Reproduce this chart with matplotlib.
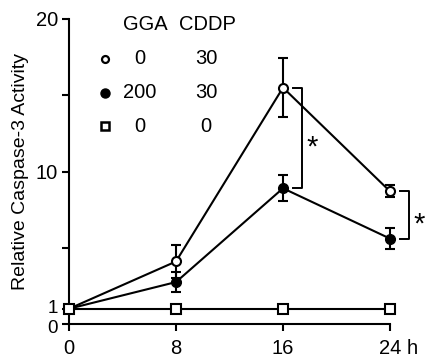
import matplotlib
matplotlib.use("Agg")
import matplotlib.pyplot as plt
from matplotlib.transforms import ScaledTranslation

plt.rcParams['font.family'] = ['Liberation Sans', 'DejaVu Sans']

hours = [0, 8, 16, 24]
open_vals = [1.0, 4.1, 15.5, 8.7]
open_err = [0.0, 1.1, 1.95, 0.4]
filled_vals = [1.0, 2.75, 8.9, 5.6]
filled_err = [0.0, 0.65, 0.85, 0.7]
square_vals = [1.0, 1.0, 1.0, 1.0]

xtick_labels = ["0", "8", "16", "24 h"]
ytick_major = [0, 1, 10, 20]
ytick_minor = [5, 15]

legend_header = ["GGA", "CDDP"]
legend_gga = ["0", "200", "0"]
legend_cddp = ["30", "30", "0"]

FS = 14.5

fig = plt.figure(figsize=(4.27, 3.58), dpi=100)
ax = fig.add_axes([69/427, 34/358, (390-69)/427, (324-19)/358])

lw = 1.5
ax.errorbar(hours, open_vals, yerr=open_err, color='black', lw=lw, marker='o',
            mfc='white', mec='black', mew=1.5, ms=6.5, capsize=3.3, capthick=1.5,
            clip_on=False, zorder=3)
ax.errorbar(hours, filled_vals, yerr=filled_err, color='black', lw=lw, marker='o',
            mfc='black', mec='black', ms=7, capsize=3.3, capthick=1.5,
            clip_on=False, zorder=4)
ax.plot(hours, square_vals, color='black', lw=lw, marker='s', mfc='white',
        mec='black', mew=1.5, ms=6.5, clip_on=False, zorder=5)

# significance brackets
def bracket(x, y1, y2):
    xb = x + 1.45
    xt = x + 0.75
    ax.plot([xt, xb, xb, xt], [y1, y1, y2, y2], color='black', lw=1.4, clip_on=False)
    ax.text(xb + 0.7, (y1 + y2) / 2 - 0.6, "*", fontsize=21, ha='center', va='center')

bracket(hours[2], open_vals[2], filled_vals[2])
bracket(hours[3], open_vals[3], filled_vals[3])

ax.set_xlim(0, 24)
ax.set_ylim(0, 20)
ax.set_xticks(hours)
ax.set_xticklabels(xtick_labels)
ax.set_yticks(ytick_major)
ax.set_yticks(ytick_minor, minor=True)
ax.tick_params(axis='both', which='both', direction='out', width=1.5, labelsize=FS)
ax.tick_params(axis='both', which='both', length=5)
ax.tick_params(axis='y', pad=3)
ax.tick_params(axis='x', pad=6)
for s in ['top', 'right']:
    ax.spines[s].set_visible(False)
for s in ['left', 'bottom']:
    ax.spines[s].set_linewidth(1.5)
ax.set_ylabel("Relative Caspase-3 Activity", fontsize=14, labelpad=5)

last = ax.get_xticklabels()[-1]
last.set_horizontalalignment('left')
shift = -1.112 * FS / 72 / 2
last.set_transform(last.get_transform() + ScaledTranslation(shift, 0, fig.dpi_scale_trans))

# nudge the crowded "0" and "1" y tick labels apart
ylabs = ax.get_yticklabels()
for lab, dy in zip(ylabs[:2], [-2.5 / 100, 2.5 / 100]):
    lab.set_transform(lab.get_transform() + ScaledTranslation(0, dy, fig.dpi_scale_trans))
    lab.set_fontsize(13.5)

# legend table
def ax_x(px):
    return (px - 69) / 321

def ax_y(py):
    return (324 - py) / 305

hx = [ax_x(145), ax_x(207)]
for t, x in zip(legend_header, hx):
    ax.text(x, ax_y(25), t, transform=ax.transAxes, fontsize=FS,
            ha='center', va='center')
row_y = [ax_y(59), ax_y(93), ax_y(126)]
mk_x = ax_x(105)
styles = [dict(marker='o', mfc='white', mec='black', mew=1.6, ms=5),
          dict(marker='o', mfc='black', mec='black', ms=6.5),
          dict(marker='s', mfc='white', mec='black', mew=1.8, ms=5.5)]
for y, st, g, c in zip(row_y, styles, legend_gga, legend_cddp):
    ax.plot([mk_x], [y], transform=ax.transAxes, ls='none', clip_on=False, **st)
    ax.text(ax_x(140), y, g, transform=ax.transAxes, fontsize=FS,
            ha='center', va='center')
    ax.text(ax_x(206), y, c, transform=ax.transAxes, fontsize=FS,
            ha='center', va='center')

fig.savefig("out.png", dpi=100)
